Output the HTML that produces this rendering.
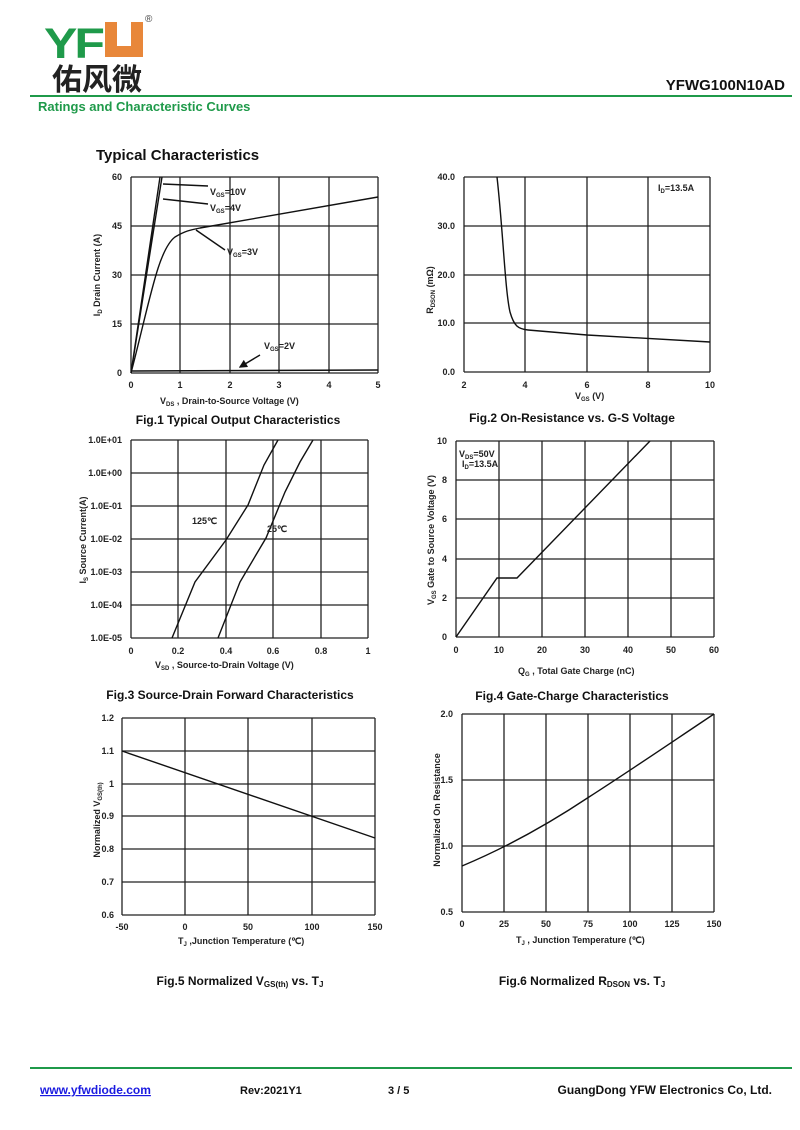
<!DOCTYPE html>
<html><head><meta charset="utf-8"><style>
body{margin:0;background:#fff;}
svg{display:block;font-family:"Liberation Sans",Arial,sans-serif;}
.g line{stroke:#222;stroke-width:1.3}
.t{font-size:9px;font-weight:bold;fill:#222}
.c{fill:none;stroke:#111;stroke-width:1.4}
.cap{font-size:12px;font-weight:bold;fill:#111}
</style></head><body>
<svg width="800" height="1130" viewBox="0 0 800 1130">
<defs><marker id="ah" markerWidth="6" markerHeight="6" refX="5" refY="3" orient="auto"><path d="M0 0 L6 3 L0 6z" fill="#111"/></marker></defs>
<!-- header -->
<text x="44" y="58" font-size="50" font-weight="bold" fill="#1f9a4a" letter-spacing="-3" transform="scale(1,0.85)" style="transform-origin:44px 58px">YF</text>
<path d="M105 22 h12 v24 h14 v-24 h12 v35 h-38z" fill="#e8873a"/>
<text x="145" y="22" font-size="10" fill="#444">®</text>
<text x="52" y="90" font-size="30" font-family="'Noto Sans CJK SC',sans-serif" font-weight="bold" fill="#222">佑风微</text>
<text x="785" y="90" font-size="15" font-weight="bold" fill="#111" text-anchor="end">YFWG100N10AD</text>
<line x1="30" y1="96" x2="792" y2="96" stroke="#1f9a4a" stroke-width="2"/>
<text x="38" y="111" font-size="13" font-weight="bold" fill="#1f9a4a">Ratings and Characteristic Curves</text>
<text x="96" y="160" font-size="15" font-weight="bold" fill="#111">Typical Characteristics</text>

<!-- Fig1 -->
<g class="g">
<line x1="131" y1="177" x2="378" y2="177"/><line x1="131" y1="226" x2="378" y2="226"/><line x1="131" y1="275" x2="378" y2="275"/><line x1="131" y1="324" x2="378" y2="324"/><line x1="131" y1="373" x2="378" y2="373"/>
<line x1="131" y1="177" x2="131" y2="373"/><line x1="180" y1="177" x2="180" y2="373"/><line x1="230" y1="177" x2="230" y2="373"/><line x1="279" y1="177" x2="279" y2="373"/><line x1="329" y1="177" x2="329" y2="373"/><line x1="378" y1="177" x2="378" y2="373"/>
</g>
<path class="c" d="M131 373 L160 177 M131 373 L162 177"/>
<path class="c" d="M131 373 C150 300 158 250 175 237 C185 231 190 230 200 228 L378 197"/>
<path class="c" d="M131 371 L378 370"/>
<path class="c" stroke-width="1" marker-end="url(#ah)" d="M208 186 L163 184 M208 204 L163 199 M225 250 L196 230 M260 355 L240 367"/>
<g class="t">
<text x="122" y="180" text-anchor="end">60</text><text x="122" y="229" text-anchor="end">45</text><text x="122" y="278" text-anchor="end">30</text><text x="122" y="327" text-anchor="end">15</text><text x="122" y="376" text-anchor="end">0</text>
<text x="131" y="388" text-anchor="middle">0</text><text x="180" y="388" text-anchor="middle">1</text><text x="230" y="388" text-anchor="middle">2</text><text x="279" y="388" text-anchor="middle">3</text><text x="329" y="388" text-anchor="middle">4</text><text x="378" y="388" text-anchor="middle">5</text>
<text x="210" y="195">V<tspan font-size="6" dy="2">GS</tspan><tspan dy="-2">=10V</tspan></text>
<text x="210" y="211">V<tspan font-size="6" dy="2">GS</tspan><tspan dy="-2">=4V</tspan></text>
<text x="227" y="255">V<tspan font-size="6" dy="2">GS</tspan><tspan dy="-2">=3V</tspan></text>
<text x="264" y="349">V<tspan font-size="6" dy="2">GS</tspan><tspan dy="-2">=2V</tspan></text>
<text x="160" y="404">V<tspan font-size="6" dy="2">DS</tspan><tspan dy="-2">  , Drain-to-Source Voltage (V)</tspan></text>
<text transform="translate(100,275) rotate(-90)" text-anchor="middle">I<tspan font-size="6" dy="2">D</tspan><tspan dy="-2"> Drain Current (A)</tspan></text>
</g>
<text class="cap" x="238" y="424" text-anchor="middle">Fig.1 Typical Output Characteristics</text>

<!-- Fig2 -->
<g class="g">
<line x1="464" y1="177" x2="710" y2="177"/><line x1="464" y1="226" x2="710" y2="226"/><line x1="464" y1="275" x2="710" y2="275"/><line x1="464" y1="323" x2="710" y2="323"/><line x1="464" y1="372" x2="710" y2="372"/>
<line x1="464" y1="177" x2="464" y2="372"/><line x1="525" y1="177" x2="525" y2="372"/><line x1="587" y1="177" x2="587" y2="372"/><line x1="648" y1="177" x2="648" y2="372"/><line x1="710" y1="177" x2="710" y2="372"/>
</g>
<path class="c" d="M497 177 C503 230 505 290 510 312 C514 326 518 329 528 330 L587 335 L710 342"/>
<g class="t">
<text x="455" y="180" text-anchor="end">40.0</text><text x="455" y="229" text-anchor="end">30.0</text><text x="455" y="278" text-anchor="end">20.0</text><text x="455" y="326" text-anchor="end">10.0</text><text x="455" y="375" text-anchor="end">0.0</text>
<text x="464" y="388" text-anchor="middle">2</text><text x="525" y="388" text-anchor="middle">4</text><text x="587" y="388" text-anchor="middle">6</text><text x="648" y="388" text-anchor="middle">8</text><text x="710" y="388" text-anchor="middle">10</text>
<text x="658" y="191">I<tspan font-size="6" dy="2">D</tspan><tspan dy="-2">=13.5A</tspan></text>
<text x="575" y="399">V<tspan font-size="6" dy="2">GS</tspan><tspan dy="-2"> (V)</tspan></text>
<text transform="translate(433,290) rotate(-90)" text-anchor="middle">R<tspan font-size="6" dy="2">DSON</tspan><tspan dy="-2"> (mΩ)</tspan></text>
</g>
<text class="cap" x="572" y="422" text-anchor="middle">Fig.2 On-Resistance vs. G-S Voltage</text>

<!-- Fig3 -->
<g class="g">
<line x1="131" y1="440" x2="368" y2="440"/><line x1="131" y1="473" x2="368" y2="473"/><line x1="131" y1="506" x2="368" y2="506"/><line x1="131" y1="539" x2="368" y2="539"/><line x1="131" y1="572" x2="368" y2="572"/><line x1="131" y1="605" x2="368" y2="605"/><line x1="131" y1="638" x2="368" y2="638"/>
<line x1="131" y1="440" x2="131" y2="638"/><line x1="178" y1="440" x2="178" y2="638"/><line x1="226" y1="440" x2="226" y2="638"/><line x1="273" y1="440" x2="273" y2="638"/><line x1="321" y1="440" x2="321" y2="638"/><line x1="368" y1="440" x2="368" y2="638"/>
</g>
<path class="c" d="M172 638 L195 582 L226 540 L248 505 L264 465 L278 440"/>
<path class="c" d="M218 638 L240 582 L266 538 L285 492 L300 462 L313 440"/>
<g class="t">
<text x="122" y="443" text-anchor="end">1.0E+01</text><text x="122" y="476" text-anchor="end">1.0E+00</text><text x="122" y="509" text-anchor="end">1.0E-01</text><text x="122" y="542" text-anchor="end">1.0E-02</text><text x="122" y="575" text-anchor="end">1.0E-03</text><text x="122" y="608" text-anchor="end">1.0E-04</text><text x="122" y="641" text-anchor="end">1.0E-05</text>
<text x="131" y="654" text-anchor="middle">0</text><text x="178" y="654" text-anchor="middle">0.2</text><text x="226" y="654" text-anchor="middle">0.4</text><text x="273" y="654" text-anchor="middle">0.6</text><text x="321" y="654" text-anchor="middle">0.8</text><text x="368" y="654" text-anchor="middle">1</text>
<text x="192" y="524">125℃</text><text x="267" y="532">25℃</text>
<text x="155" y="668">V<tspan font-size="6" dy="2">SD</tspan><tspan dy="-2"> , Source-to-Drain Voltage (V)</tspan></text>
<text transform="translate(86,540) rotate(-90)" text-anchor="middle">I<tspan font-size="6" dy="2">S</tspan><tspan dy="-2"> Source Current(A)</tspan></text>
</g>
<text class="cap" x="230" y="699" text-anchor="middle">Fig.3 Source-Drain Forward Characteristics</text>

<!-- Fig4 -->
<g class="g">
<line x1="456" y1="441" x2="714" y2="441"/><line x1="456" y1="480" x2="714" y2="480"/><line x1="456" y1="519" x2="714" y2="519"/><line x1="456" y1="559" x2="714" y2="559"/><line x1="456" y1="598" x2="714" y2="598"/><line x1="456" y1="637" x2="714" y2="637"/>
<line x1="456" y1="441" x2="456" y2="637"/><line x1="499" y1="441" x2="499" y2="637"/><line x1="542" y1="441" x2="542" y2="637"/><line x1="585" y1="441" x2="585" y2="637"/><line x1="628" y1="441" x2="628" y2="637"/><line x1="671" y1="441" x2="671" y2="637"/><line x1="714" y1="441" x2="714" y2="637"/>
</g>
<path class="c" d="M456 637 L497 578 L517 578 L650 441"/>
<g class="t">
<text x="447" y="444" text-anchor="end">10</text><text x="447" y="483" text-anchor="end">8</text><text x="447" y="522" text-anchor="end">6</text><text x="447" y="562" text-anchor="end">4</text><text x="447" y="601" text-anchor="end">2</text><text x="447" y="640" text-anchor="end">0</text>
<text x="456" y="653" text-anchor="middle">0</text><text x="499" y="653" text-anchor="middle">10</text><text x="542" y="653" text-anchor="middle">20</text><text x="585" y="653" text-anchor="middle">30</text><text x="628" y="653" text-anchor="middle">40</text><text x="671" y="653" text-anchor="middle">50</text><text x="714" y="653" text-anchor="middle">60</text>
<text x="459" y="457">V<tspan font-size="6" dy="2">DS</tspan><tspan dy="-2">=50V</tspan></text>
<text x="462" y="467">I<tspan font-size="6" dy="2">D</tspan><tspan dy="-2">=13.5A</tspan></text>
<text x="518" y="674">Q<tspan font-size="6" dy="2">G</tspan><tspan dy="-2"> , Total Gate Charge (nC)</tspan></text>
<text transform="translate(434,540) rotate(-90)" text-anchor="middle">V<tspan font-size="6" dy="2">GS</tspan><tspan dy="-2">   Gate to Source Voltage (V)</tspan></text>
</g>
<text class="cap" x="572" y="700" text-anchor="middle">Fig.4 Gate-Charge Characteristics</text>

<!-- Fig5 -->
<g class="g">
<line x1="122" y1="718" x2="375" y2="718"/><line x1="122" y1="751" x2="375" y2="751"/><line x1="122" y1="784" x2="375" y2="784"/><line x1="122" y1="816" x2="375" y2="816"/><line x1="122" y1="849" x2="375" y2="849"/><line x1="122" y1="882" x2="375" y2="882"/><line x1="122" y1="915" x2="375" y2="915"/>
<line x1="122" y1="718" x2="122" y2="915"/><line x1="185" y1="718" x2="185" y2="915"/><line x1="248" y1="718" x2="248" y2="915"/><line x1="312" y1="718" x2="312" y2="915"/><line x1="375" y1="718" x2="375" y2="915"/>
</g>
<path class="c" d="M122 751 L375 838"/>
<g class="t">
<text x="114" y="721" text-anchor="end">1.2</text><text x="114" y="754" text-anchor="end">1.1</text><text x="114" y="787" text-anchor="end">1</text><text x="114" y="819" text-anchor="end">0.9</text><text x="114" y="852" text-anchor="end">0.8</text><text x="114" y="885" text-anchor="end">0.7</text><text x="114" y="918" text-anchor="end">0.6</text>
<text x="122" y="930" text-anchor="middle">-50</text><text x="185" y="930" text-anchor="middle">0</text><text x="248" y="930" text-anchor="middle">50</text><text x="312" y="930" text-anchor="middle">100</text><text x="375" y="930" text-anchor="middle">150</text>
<text x="178" y="944">T<tspan font-size="6" dy="2">J</tspan><tspan dy="-2"> ,Junction Temperature (℃)</tspan></text>
<text transform="translate(100,820) rotate(-90)" text-anchor="middle">Normalized V<tspan font-size="6" dy="2">GS(th)</tspan></text>
</g>
<text class="cap" x="240" y="985" text-anchor="middle">Fig.5 Normalized V<tspan font-size="8" dy="2">GS(th)</tspan><tspan dy="-2"> vs. T</tspan><tspan font-size="8" dy="2">J</tspan></text>

<!-- Fig6 -->
<g class="g">
<line x1="462" y1="714" x2="714" y2="714"/><line x1="462" y1="780" x2="714" y2="780"/><line x1="462" y1="846" x2="714" y2="846"/><line x1="462" y1="912" x2="714" y2="912"/>
<line x1="462" y1="714" x2="462" y2="912"/><line x1="504" y1="714" x2="504" y2="912"/><line x1="546" y1="714" x2="546" y2="912"/><line x1="588" y1="714" x2="588" y2="912"/><line x1="630" y1="714" x2="630" y2="912"/><line x1="672" y1="714" x2="672" y2="912"/><line x1="714" y1="714" x2="714" y2="912"/>
</g>
<path class="c" d="M462 866 C505 848 547 825 589 797 C631 770 672 742 714 714"/>
<g class="t">
<text x="453" y="717" text-anchor="end">2.0</text><text x="453" y="783" text-anchor="end">1.5</text><text x="453" y="849" text-anchor="end">1.0</text><text x="453" y="915" text-anchor="end">0.5</text>
<text x="462" y="927" text-anchor="middle">0</text><text x="504" y="927" text-anchor="middle">25</text><text x="546" y="927" text-anchor="middle">50</text><text x="588" y="927" text-anchor="middle">75</text><text x="630" y="927" text-anchor="middle">100</text><text x="672" y="927" text-anchor="middle">125</text><text x="714" y="927" text-anchor="middle">150</text>
<text x="516" y="943">T<tspan font-size="6" dy="2">J</tspan><tspan dy="-2"> , Junction Temperature (℃)</tspan></text>
<text transform="translate(440,810) rotate(-90)" text-anchor="middle">Normalized On Resistance</text>
</g>
<text class="cap" x="582" y="985" text-anchor="middle">Fig.6 Normalized R<tspan font-size="8" dy="2">DSON</tspan><tspan dy="-2"> vs. T</tspan><tspan font-size="8" dy="2">J</tspan></text>

<!-- footer -->
<line x1="30" y1="1068" x2="792" y2="1068" stroke="#1f9a4a" stroke-width="2"/>
<text x="40" y="1094" font-size="12" font-weight="bold" fill="#1a1ae0" text-decoration="underline">www.yfwdiode.com</text>
<text x="240" y="1094" font-size="11" font-weight="bold" fill="#111">Rev:2021Y1</text>
<text x="388" y="1094" font-size="11" font-weight="bold" fill="#111">3 / 5</text>
<text x="772" y="1094" font-size="12" font-weight="bold" fill="#111" text-anchor="end">GuangDong YFW Electronics Co, Ltd.</text>
</svg>
</body></html>
